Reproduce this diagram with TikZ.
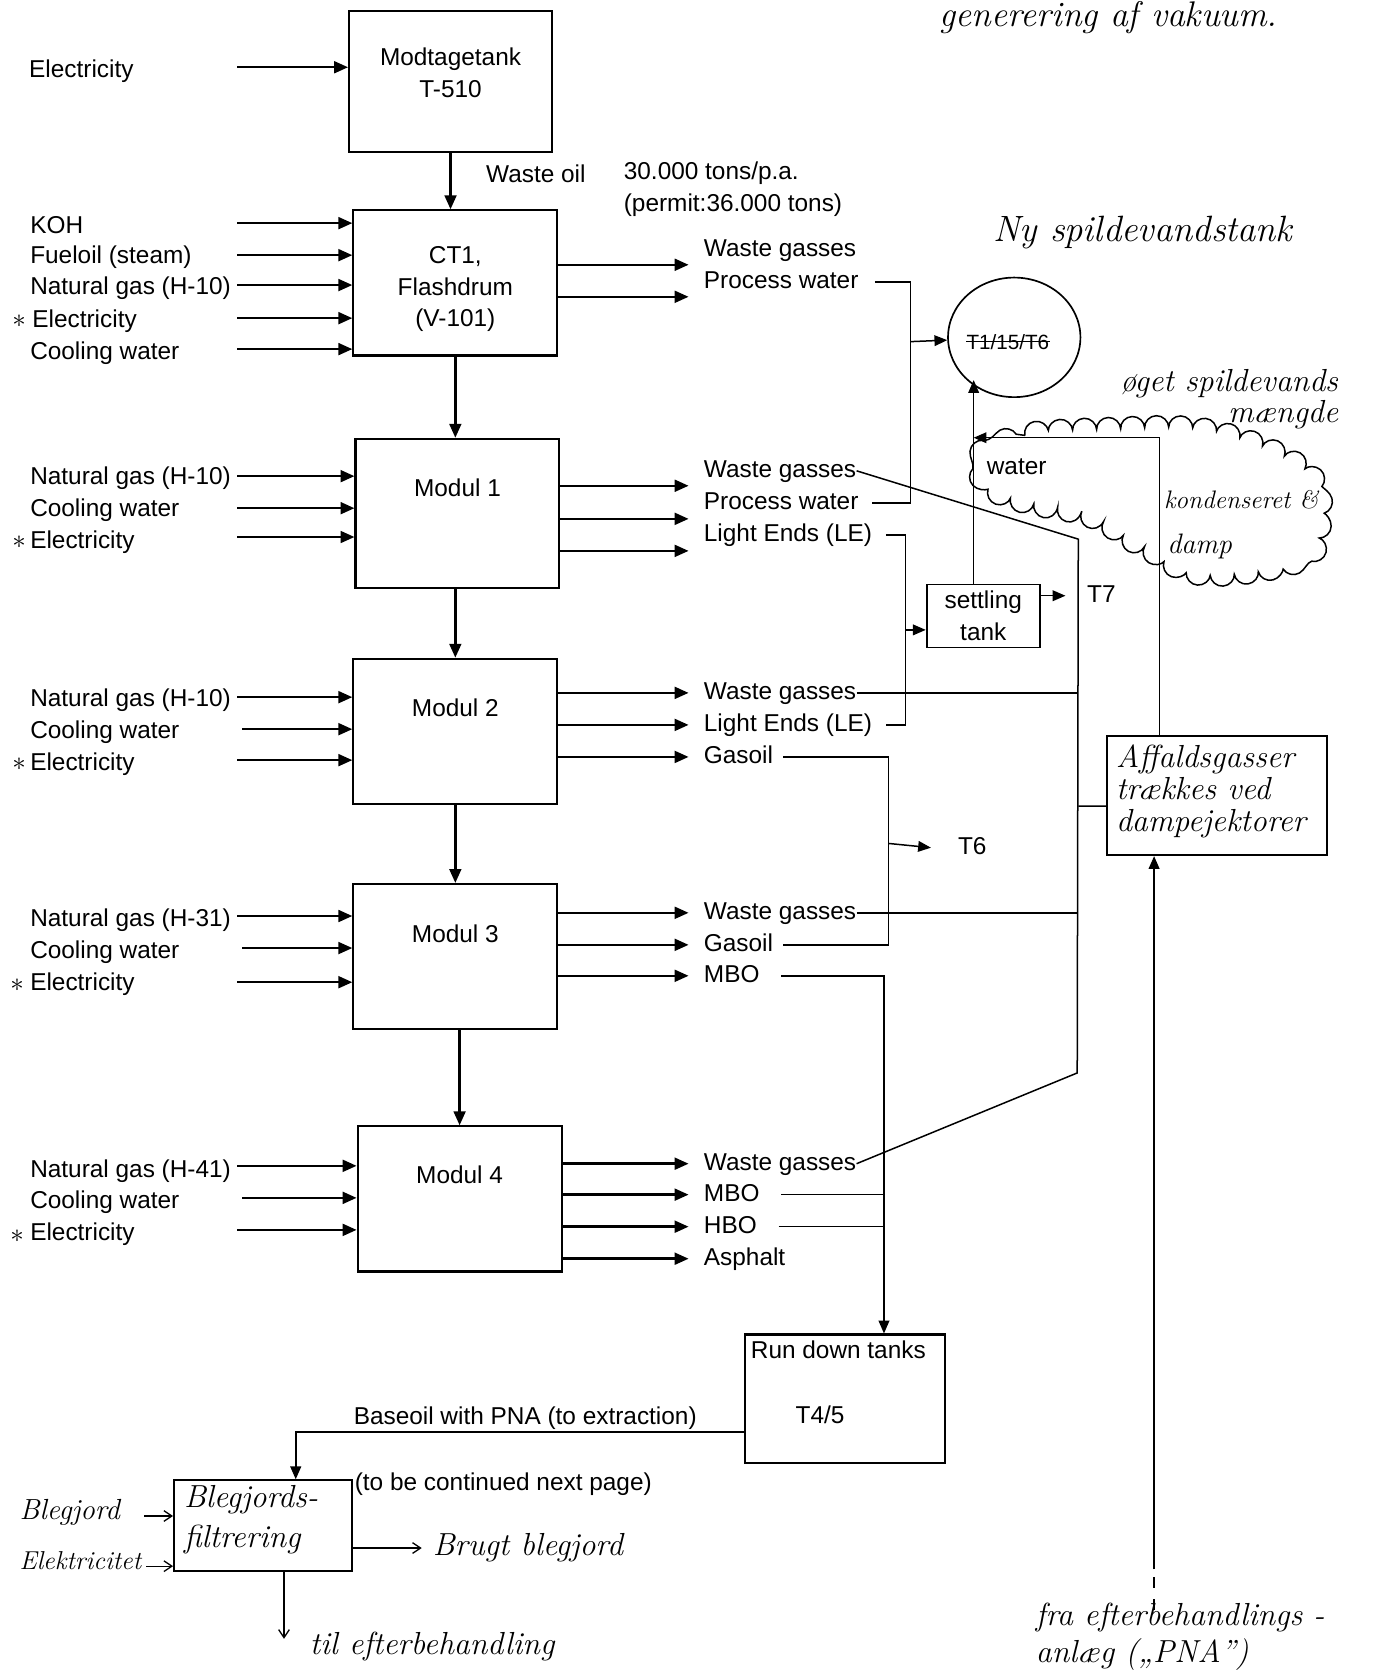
\documentclass[tikz,border=0pt]{standalone}
\usepackage{fontspec}
\setsansfont{Liberation Sans}
\usetikzlibrary{arrows, arrows.meta}
\usetikzlibrary{shapes.geometric}
\usetikzlibrary{decorations.pathmorphing}

\newcommand{\typed}{\sffamily\fontsize{13}{16.8}\selectfont}
\newcommand{\handw}{\rmfamily\itshape\fontsize{17}{20}\selectfont}

\begin{document}
\begin{tikzpicture}[x=0.2mm, y=-0.2mm,
    box/.style={draw, line width=1.1pt, inner sep=0pt},
    txt/.style={anchor=west, inner sep=0pt, font=\typed, text height=9.5pt, text depth=2.5pt},
    ltxt/.style={anchor=west, inner sep=0pt, font=\typed, align=left},
    ctxt/.style={inner sep=0pt, font=\typed, align=center},
    hand/.style={anchor=west, inner sep=0pt, font=\handw},
    asterisk/.style={inner sep=0pt, font=\fontsize{14}{14}\selectfont},
    flow/.style={line width=1.3pt, -{Triangle[length=2.6mm, width=2.2mm]}},
    pipe/.style={line width=0.8pt},
    pipearr/.style={line width=0.8pt, -{Triangle[length=2.4mm, width=2mm]}},
    handarr/.style={line width=0.7pt, -{Straight Barb[length=1.5mm, width=2mm]}}]

    \fill[white] (0,0) rectangle (1287,1568);
    \useasboundingbox (0,0) rectangle (1287,1568);

    \node[box, minimum width=38mm, minimum height=26.4mm] (t510) at (422,76) {};
    \node[ctxt] (t510lbl) at (422,68) {Modtagetank\\T-510};
    \node[txt] (el) at (27,66) {Electricity};
    \coordinate (el-s) at (222,63);
    \draw[flow] (el-s) -- (el-s -| t510.west);

    \node[txt] (wo) at (455,165) {Waste oil};
    \node[ltxt] (cap) at (584,177) {30.000 tons/p.a.\\(permit:36.000 tons)};

    \node[box, minimum width=38.2mm, minimum height=27.2mm] (ct1) at (426.5,265) {};
    \node[ctxt] (ct1lbl) at (426.5,271) {CT1,\\Flashdrum\\(V-101)};
    \draw[flow] (t510.south) -- (t510.south |- ct1.north);

    \node[txt] (koh) at (28,213) {KOH};
    \node[txt] (fo) at (28,241) {Fueloil (steam)};
    \node[txt] (ng0) at (28,270) {Natural gas (H-10)};
    \node[asterisk] (st0) at (18,301) {$\ast$};
    \node[txt] (el0) at (30,301) {Electricity};
    \node[txt] (cw0) at (28,331) {Cooling water};
    \coordinate (koh-s) at (222,209);
    \coordinate (fo-s) at (222,239);
    \coordinate (ng0-s) at (222,267);
    \coordinate (el0-s) at (222,298);
    \coordinate (cw0-s) at (222,327);
    \draw[flow] (koh-s) -- (koh-s -| ct1.west);
    \draw[flow] (fo-s) -- (fo-s -| ct1.west);
    \draw[flow] (ng0-s) -- (ng0-s -| ct1.west);
    \draw[flow] (el0-s) -- (el0-s -| ct1.west);
    \draw[flow] (cw0-s) -- (cw0-s -| ct1.west);

    \node[txt] (wg0) at (659,234) {Waste gasses};
    \node[txt] (pw0) at (659,264) {Process water};
    \coordinate (wg0-e) at (645,248);
    \coordinate (pw0-e) at (645,278);
    \draw[flow] (wg0-e -| ct1.east) -- (wg0-e);
    \draw[flow] (pw0-e -| ct1.east) -- (pw0-e);

    \node[box, minimum width=38.2mm, minimum height=28mm] (m1) at (428.5,481) {};
    \node[ctxt] (m1lbl) at (428.5,457) {Modul 1};
    \draw[flow] (ct1.south) -- (ct1.south |- m1.north);

    \node[txt] (ng1) at (28,448) {Natural gas (H-10)};
    \node[txt] (cw1) at (28,478) {Cooling water};
    \node[asterisk] (st1) at (18,508) {$\ast$};
    \node[txt] (el1) at (28,508) {Electricity};
    \coordinate (ng1-s) at (222,446);
    \coordinate (cw1-s) at (222,476);
    \coordinate (el1-s) at (222,503);
    \draw[flow] (ng1-s) -- (ng1-s -| m1.west);
    \draw[flow] (cw1-s) -- (cw1-s -| m1.west);
    \draw[flow] (el1-s) -- (el1-s -| m1.west);

    \node[txt] (wg1) at (659,441) {Waste gasses};
    \node[txt] (pw1) at (659,471) {Process water};
    \node[txt] (le1) at (659,501) {Light Ends (LE)};
    \coordinate (wg1-e) at (645,455);
    \coordinate (pw1-e) at (645,486);
    \coordinate (le1-e) at (645,516);
    \draw[flow] (wg1-e -| m1.east) -- (wg1-e);
    \draw[flow] (pw1-e -| m1.east) -- (pw1-e);
    \draw[flow] (le1-e -| m1.east) -- (le1-e);

    \node[box, minimum width=38.2mm, minimum height=27.2mm] (m2) at (426.5,685) {};
    \node[ctxt] (m2lbl) at (426.5,663) {Modul 2};
    \draw[flow] (m1.south -| m2.north) -- (m2.north);

    \node[txt] (ng2) at (28,656) {Natural gas (H-10)};
    \node[txt] (cw2) at (28,686) {Cooling water};
    \node[asterisk] (st2) at (18,716) {$\ast$};
    \node[txt] (el2) at (28,716) {Electricity};
    \coordinate (ng2-s) at (222,653);
    \coordinate (cw2-s) at (227,683);
    \coordinate (el2-s) at (222,712);
    \draw[flow] (ng2-s) -- (ng2-s -| m2.west);
    \draw[flow] (cw2-s) -- (cw2-s -| m2.west);
    \draw[flow] (el2-s) -- (el2-s -| m2.west);

    \node[txt] (wg2) at (659,649) {Waste gasses};
    \node[txt] (le2) at (659,679) {Light Ends (LE)};
    \node[txt] (go2) at (659,709) {Gasoil};
    \draw[flow] (m2.east |- wg2) -- ([xshift=-2.8mm]wg2.west);
    \draw[flow] (m2.east |- le2) -- ([xshift=-2.8mm]le2.west);
    \draw[flow] (m2.east |- go2) -- ([xshift=-2.8mm]go2.west);

    \node[box, minimum width=38.2mm, minimum height=27.2mm] (m3) at (426.5,896) {};
    \node[ctxt] (m3lbl) at (426.5,875) {Modul 3};
    \draw[flow] (m2.south) -- (m3.north);

    \node[txt] (ng3) at (28,862) {Natural gas (H-31)};
    \node[txt] (cw3) at (28,892) {Cooling water};
    \node[asterisk] (st3) at (16,923) {$\ast$};
    \node[txt] (el3) at (28,922) {Electricity};
    \coordinate (ng3-s) at (222,858);
    \coordinate (cw3-s) at (227,888);
    \coordinate (el3-s) at (222,920);
    \draw[flow] (ng3-s) -- (ng3-s -| m3.west);
    \draw[flow] (cw3-s) -- (cw3-s -| m3.west);
    \draw[flow] (el3-s) -- (el3-s -| m3.west);

    \node[txt] (wg3) at (659,855) {Waste gasses};
    \node[txt] (go3) at (659,885) {Gasoil};
    \node[txt] (mbo3) at (659,914) {MBO};
    \draw[flow] (m3.east |- wg3) -- ([xshift=-2.8mm]wg3.west);
    \draw[flow] (m3.east |- go3) -- ([xshift=-2.8mm]go3.west);
    \draw[flow] (m3.east |- mbo3) -- ([xshift=-2.8mm]mbo3.west);

    \node[box, minimum width=38.2mm, minimum height=27.2mm] (m4) at (430.5,1123) {};
    \node[ctxt] (m4lbl) at (430.5,1100) {Modul 4};
    \draw[flow] (m3.south -| m4.north) -- (m4.north);

    \node[txt] (ng4) at (28,1097) {Natural gas (H-41)};
    \node[txt] (cw4) at (28,1126) {Cooling water};
    \node[asterisk] (st4) at (16,1158) {$\ast$};
    \node[txt] (el4) at (28,1156) {Electricity};
    \coordinate (ng4-s) at (222,1092);
    \coordinate (cw4-s) at (227,1122);
    \coordinate (el4-s) at (222,1152);
    \draw[flow] (ng4-s) -- (ng4-s -| m4.west);
    \draw[flow] (cw4-s) -- (cw4-s -| m4.west);
    \draw[flow] (el4-s) -- (el4-s -| m4.west);

    \node[txt] (wg4) at (659,1090) {Waste gasses};
    \node[txt] (mbo4) at (659,1119) {MBO};
    \node[txt] (hbo4) at (659,1149) {HBO};
    \node[txt] (asp) at (659,1179) {Asphalt};
    \draw[flow] (m4.east |- wg4) -- ([xshift=-2.8mm]wg4.west);
    \draw[flow] (m4.east |- mbo4) -- ([xshift=-2.8mm]mbo4.west);
    \draw[flow] (m4.east |- hbo4) -- ([xshift=-2.8mm]hbo4.west);
    \draw[flow] (m4.east |- asp) -- ([xshift=-2.8mm]asp.west);

    \node[draw, ellipse, line width=0.9pt, minimum width=24.8mm, minimum height=22.4mm] (tank) at (950,316) {};
    \node[inner sep=0pt, font=\sffamily\fontsize{11}{11}\selectfont] (tanklbl) at (944,320) {T1/15/T6};
    \draw[line width=0.8pt] (tanklbl.west) -- (tanklbl.east);
    \node[hand, font=\rmfamily\itshape\fontsize{19.5}{20}\selectfont] (ny) at (930,218) {Ny spildevandstank};

    \coordinate (pwbus) at (853,320);
    \draw[pipe] ([xshift=3mm]pw0.east) -| (pwbus) |- ([xshift=2.5mm]pw1.east);
    \draw[pipearr] (pwbus) -- (tank);

    \node[box, line width=1pt, minimum width=21.2mm, minimum height=11.8mm, font=\typed, align=center] (settle) at (921,577) {settling\\tank};
    \coordinate (lebus) at (848,590);
    \draw[pipe] ([xshift=2.5mm]le1.east) -| (lebus) |- ([xshift=2.5mm]le2.east);
    \draw[pipearr] (lebus) -- (settle.west |- lebus);
    \node[txt] (t7) at (1018,558) {T7};
    \draw[pipearr] (settle.east |- t7) -- ([xshift=-4mm]t7.west);

    \coordinate (riser) at (912,410);
    \coordinate (tankin) at (912,356);
    \draw[pipearr] (settle.north -| riser) -- (tankin);

    \coordinate (gobus) at (832,790);
    \node[txt] (t6) at (897,794) {T6};
    \draw[pipe] ([xshift=1.8mm]go2.east) -| (gobus) |- ([xshift=1.8mm]go3.east);
    \draw[pipearr] (gobus) -- ([xshift=-5mm]t6.west);

    \node[box, minimum width=37.4mm, minimum height=24mm] (rdt) at (791.5,1310) {};
    \node[txt] (rdtlbl) at (703,1266) {Run down tanks};
    \node[txt] (t45) at (745,1327) {T4/5};
    \coordinate (mbobus) at (828,1117);
    \draw[pipearr] ([xshift=4mm]mbo3.east) -| (rdt.north -| mbobus);
    \draw[pipe] ([xshift=4mm]mbo4.east) -- (mbo4.east -| mbobus);
    \draw[pipe] ([xshift=4mm]hbo4.east) -- (hbo4.east -| mbobus);

    \node[box, line width=1pt, minimum width=41.2mm, minimum height=22.4mm] (affald) at (1140,745) {};
    \node[hand, align=left, font=\rmfamily\itshape\fontsize{17}{17}\selectfont] (affaldlbl) at (1045,741) {Affaldsgasser\\trækkes ved\\dampejektorer};

    \coordinate (wgtop) at (1010,505);
    \coordinate (wgbot) at (1009,1005);
    \draw[pipe] (wg1.east) -- (wgtop) -- (wgbot) -- (wg4.east);
    \draw[pipe] (wg2.east) -- (wg2.east -| wgtop);
    \draw[pipe] (wg3.east) -- (wg3.east -| wgtop);
    \draw[pipe] (affald.west -| wgtop) ++(0,10) -- ([yshift=-2mm]affald.west);

    \coordinate (vac) at (1086,410);
    \draw[pipearr] (affald.north -| vac) -- (vac) -- (riser);

    \coordinate (pna-s) at (1081,1470);
    \coordinate (pna-d) at (1081,1508);
    \draw[pipearr, line width=1pt] (pna-s) -- (pna-s |- affald.south);
    \draw[pipe, dash pattern=on 2mm off 2.2mm] (pna-d) -- (pna-s);
    \node[hand] (fra) at (970,1515) {fra efterbehandlings -};
    \node[hand] (anl) at (970,1550) {anlæg (\char"201EPNA")};

    \draw[line width=0.8pt, decorate, decoration={bumps, segment length=9mm, amplitude=2.2mm}]
        plot[smooth cycle, tension=0.6] coordinates {(921,428) (960,408) (1040,402) (1120,402) (1185,420) (1228,448) (1236,485) (1226,518) (1180,534) (1120,536) (1072,512) (1022,484) (962,470) (927,455)};
    \node[txt] (water) at (924,438) {water};
    \node[hand] (oget) at (1049,359) {øget spildevands};
    \node[hand] (maengde) at (1150,388) {mængde};
    \node[hand, font=\rmfamily\itshape\fontsize{13.5}{16}\selectfont] (kond) at (1090,468) {kondenseret \&};
    \node[hand, font=\rmfamily\itshape\fontsize{15}{16}\selectfont] (damp) at (1093,512) {damp};

    \node[hand, anchor=north west, font=\rmfamily\itshape\fontsize{19}{20}\selectfont] (gen) at (880,1) {generering af vakuum.};

    \coordinate (bo) at (277,1341);
    \node[txt] (bolbl) at (331,1328) {Baseoil with PNA (to extraction)};
    \node[box, line width=1pt, minimum width=33.4mm, minimum height=17mm] (bleg) at (246.5,1429) {};
    \draw[pipearr, line width=1pt] (rdt.west |- bo) -- (bo) -- (bleg.north -| bo);
    \node[txt] (cont) at (332,1390) {(to be continued next page)};
    \node[hand] (bleg1) at (172,1405) {Blegjords-};
    \node[hand] (bleg2) at (172,1442) {filtrering};

    \node[hand, font=\rmfamily\itshape\fontsize{15.5}{16}\selectfont] (bj) at (18,1417) {Blegjord};
    \node[hand, font=\rmfamily\itshape\fontsize{13.8}{16}\selectfont] (ek) at (18,1462) {Elektricitet};
    \coordinate (bj-s) at (135,1420);
    \coordinate (ek-s) at (137,1467);
    \draw[handarr] (bj-s) -- (bj-s -| bleg.west);
    \draw[handarr] (ek-s) -- (ek-s -| bleg.west);

    \node[hand] (brugt) at (405,1450) {Brugt blegjord};
    \draw[handarr] (bleg.east |- brugt) -- ([xshift=-2mm]brugt.west);

    \coordinate (til-e) at (266,1535);
    \node[hand] (til) at (290,1542) {til efterbehandling};
    \draw[handarr] (til-e |- bleg.south) -- (til-e);
\end{tikzpicture}
\end{document}
